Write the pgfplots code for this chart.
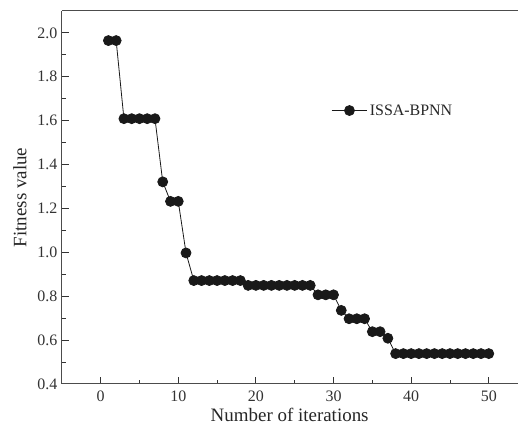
\documentclass[border=0pt]{standalone}
\usepackage{fontspec}
\setmainfont{Liberation Serif}
\usepackage{pgfplots}
\pgfplotsset{compat=1.18}

\begin{document}
\begin{tikzpicture}
\begin{axis}[
    name=ax,
    scale only axis,
    width=457pt,
    height=374pt,
    xmin=-5, xmax=53.7,
    ymin=0.4, ymax=2.1,
    axis y line*=left,
    xtick pos=left,
    ytick pos=left,
    tick align=inside,
    xtick={0,10,...,50},
    ytick={0.4,0.6,...,2.0},
    minor x tick num=1,
    minor y tick num=1,
    major tick length=7pt,
    minor tick length=4pt,
    axis line style={line width=1pt, black!70},
    every tick/.style={line width=0.8pt, black!80},
    /pgf/number format/assume math mode=true,
    yticklabel style={/pgf/number format/fixed, /pgf/number format/fixed zerofill, /pgf/number format/precision=1, xshift=-1pt},
    ticklabel style={font=\fontsize{16}{18}\selectfont, text=black!80},
    xticklabel style={yshift=-3pt},
    xlabel={Number of iterations},
    ylabel={Fitness value},
    label style={font=\fontsize{19}{21}\selectfont, text=black!85},
    xlabel style={yshift=0pt},
    ylabel style={yshift=4pt},
    legend style={draw=none, fill=none, at={(0.584,0.733)}, anchor=west,
        font=\fontsize{16}{18}\selectfont, text=black!85},
    legend cell align=left,
    legend image code/.code={
        \draw[#1, mark repeat=2, mark phase=2] plot coordinates {(0pt,0pt) (18pt,0pt) (36pt,0pt)};
    },
]
\addplot[black!90, line width=0.8pt, mark=*, mark size=5pt, mark options={fill=black!90, draw=black!90}] coordinates {
    (1,1.965) (2,1.965)
    (3,1.609) (4,1.609) (5,1.609) (6,1.609) (7,1.609)
    (8,1.321)
    (9,1.232) (10,1.232)
    (11,0.997)
    (12,0.871) (13,0.871) (14,0.871) (15,0.871) (16,0.871) (17,0.871) (18,0.871)
    (19,0.849) (20,0.849) (21,0.849) (22,0.849) (23,0.849) (24,0.849) (25,0.849) (26,0.849) (27,0.849)
    (28,0.806) (29,0.806) (30,0.806)
    (31,0.735)
    (32,0.697) (33,0.697) (34,0.697)
    (35,0.638) (36,0.638)
    (37,0.608)
    (38,0.538) (39,0.538) (40,0.538) (41,0.538) (42,0.538) (43,0.538) (44,0.538)
    (45,0.538) (46,0.538) (47,0.538) (48,0.538) (49,0.538) (50,0.538)
};
\legend{ISSA-BPNN}
\end{axis}
\path ([yshift=11pt]ax.north west) ([xshift=-62pt,yshift=-48pt]ax.south west);
\end{tikzpicture}
\end{document}
